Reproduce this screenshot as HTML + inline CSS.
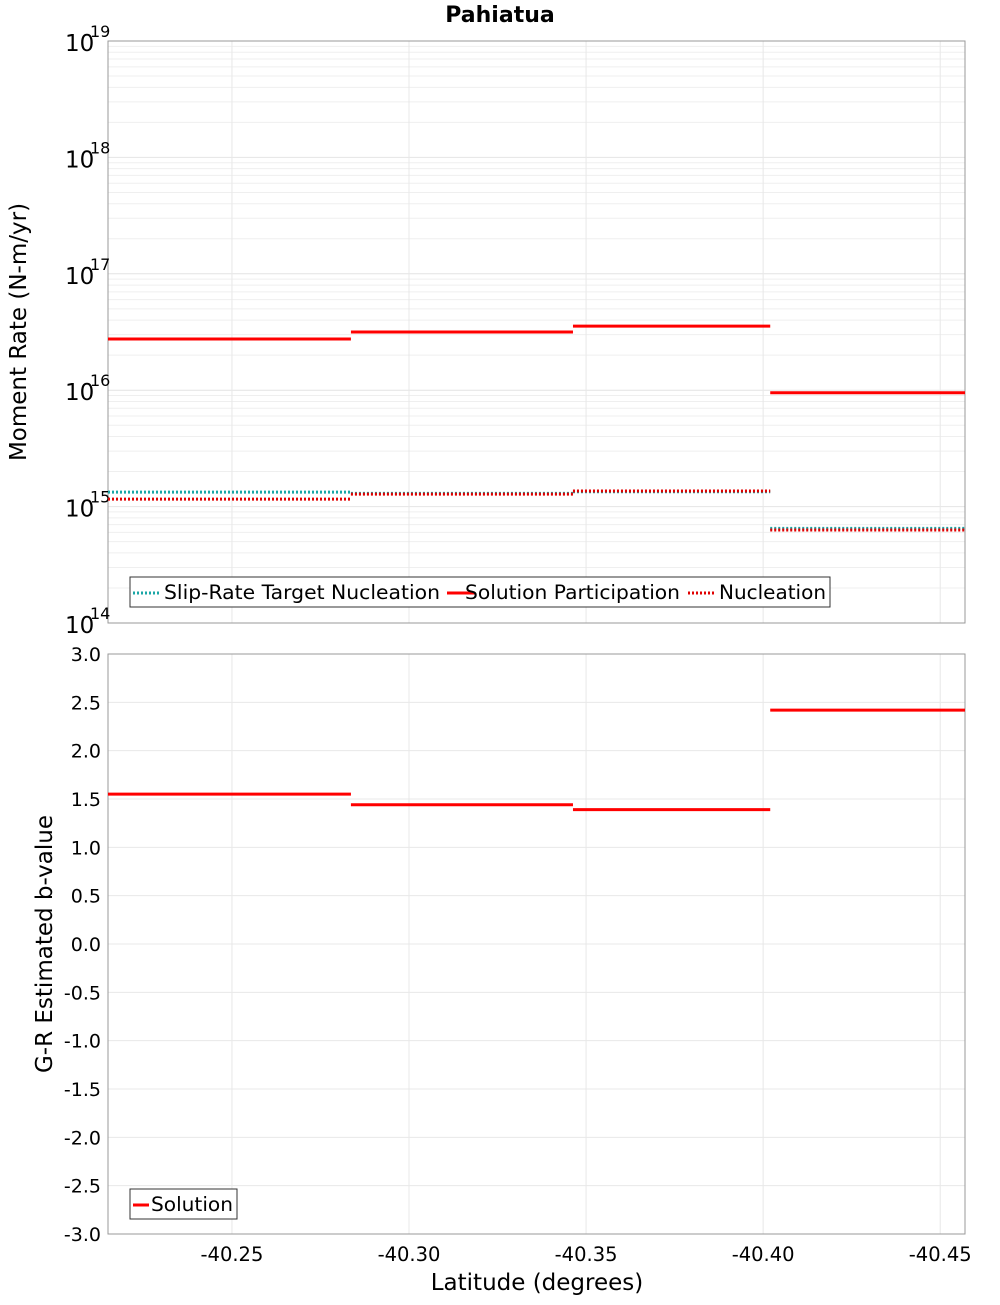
<!DOCTYPE html>
<html><head><meta charset="utf-8"><style>
body{margin:0;background:#fff;font-family:"Liberation Sans",sans-serif}
svg text{font-family:"DejaVu Sans","Liberation Sans",sans-serif}
</style></head><body>
<svg id="c" width="1000" height="1300" xmlns="http://www.w3.org/2000/svg"></svg>
<script>
const segEdges=[-40.215,-40.2836,-40.3463,-40.402,-40.457];
const solutionPart=[2.75e16,3.16e16,3.55e16,9.5e15];
const targetNucl=[1.33e15,1.30e15,1.34e15,6.5e14];
const nucleation=[1.16e15,1.28e15,1.36e15,6.3e14];
const bValues=[1.55,1.44,1.39,2.42];
const xTicks=[-40.25,-40.30,-40.35,-40.40,-40.45];
const xTickLabels=["-40.25","-40.30","-40.35","-40.40","-40.45"];
const logTicks=[14,15,16,17,18,19];
const bTicks=[-3,-2.5,-2,-1.5,-1,-0.5,0,0.5,1,1.5,2,2.5,3];

const NS="http://www.w3.org/2000/svg",svg=document.getElementById('c');
function el(t,a,p){const e=document.createElementNS(NS,t);for(const k in a)e.setAttribute(k,a[k]);(p||svg).appendChild(e);return e;}
const L=108,R=965,T1=41,B1=623,T2=654,B2=1234;
const xs=v=>L+(segEdges[0]-v)/(segEdges[0]-segEdges[4])*(R-L);
const ys1=v=>B1-(Math.log10(v)-14)/5*(B1-T1);
const ys2=v=>B2-(v+3)/6*(B2-T2);
const g=el('g',{});


for(let d=14;d<19;d++)for(let m=1;m<10;m++){const y=ys1(m*Math.pow(10,d));el('line',{x1:L,x2:R,y1:y,y2:y,stroke:m==1?'#e4e4e4':'#efefef','stroke-width':1},g);}
xTicks.forEach(t=>{const x=xs(t);el('line',{x1:x,x2:x,y1:T1,y2:B1,stroke:'#e8e8e8'},g);el('line',{x1:x,x2:x,y1:T2,y2:B2,stroke:'#e8e8e8'},g);});
bTicks.forEach(t=>{const y=ys2(t);el('line',{x1:L,x2:R,y1:y,y2:y,stroke:'#e8e8e8'},g);});
el('rect',{x:L,y:T1,width:R-L,height:B1-T1,fill:'none',stroke:'#999'});
el('rect',{x:L,y:T2,width:R-L,height:B2-T2,fill:'none',stroke:'#999'});
logTicks.forEach(d=>{const y=ys1(Math.pow(10,d));
 const t=el('text',{x:65,y:y+10,'font-size':23});t.textContent='10';
 
 const s=el('text',{x:90,y:y-4,'font-size':16});s.textContent=String(d);});
bTicks.forEach(v=>{const t=el('text',{x:101,y:ys2(v)+7,'font-size':19,'text-anchor':'end'});t.textContent=v.toFixed(1);
 });
xTicks.forEach((v,i)=>{const t=el('text',{x:xs(v),y:1261,'font-size':19.5,'text-anchor':'middle'});t.textContent=xTickLabels[i];
 });
let t=el('text',{x:500,y:22,'font-size':22,'font-weight':'bold','text-anchor':'middle'});t.textContent='Pahiatua';

t=el('text',{x:0,y:0,'font-size':23,'text-anchor':'middle',transform:'translate(26,332) rotate(-90)'});t.textContent='Moment Rate (N-m/yr)';

t=el('text',{x:0,y:0,'font-size':23,'text-anchor':'middle',transform:'translate(52,944) rotate(-90)'});t.textContent='G-R Estimated b-value';

t=el('text',{x:537,y:1290,'font-size':23,'text-anchor':'middle'});t.textContent='Latitude (degrees)';

function series(vals,ys,col,dash,name){for(let i=0;i<vals.length;i++){const y=ys(vals[i]);
 const l=el('line',{x1:xs(segEdges[i]),x2:xs(segEdges[i+1]),y1:y,y2:y,stroke:col,'stroke-width':3});
 if(dash)l.setAttribute('stroke-dasharray','2,2');
 }}
series(solutionPart,ys1,'#ff0000',false,'solution-participation-segment');
series(targetNucl,ys1,'#1aa6a6',true,'target-nucleation-segment');
series(nucleation,ys1,'#e00000',true,'nucleation-segment');
series(bValues,ys2,'#ff0000',false,'b-value-segment');
const lg=el('g',{});
el('rect',{x:130,y:577,width:700,height:30,fill:'#fff',stroke:'#333'},lg);
[[133,'#1aa6a6',true,'Slip-Rate Target Nucleation',164,276],[447,'#ff0000',false,'Solution Participation',465,215],[688,'#e00000',true,'Nucleation',719,107]].forEach(a=>{
 const l=el('line',{x1:a[0],x2:a[0]+28,y1:593,y2:593,stroke:a[1],'stroke-width':3},lg);if(a[2])l.setAttribute('stroke-dasharray','2,2');
 const tx=el('text',{x:a[4],y:599,'font-size':19.5,textLength:a[5],lengthAdjust:'spacingAndGlyphs'},lg);tx.textContent=a[3];
 });
const lg2=el('g',{});
el('rect',{x:130,y:1189,width:107,height:30,fill:'#fff',stroke:'#333'},lg2);
el('line',{x1:133,x2:149,y1:1205,y2:1205,stroke:'#ff0000','stroke-width':3},lg2);
t=el('text',{x:151,y:1211,'font-size':19.5,textLength:82,lengthAdjust:'spacingAndGlyphs'},lg2);t.textContent='Solution';

</script></body></html>
